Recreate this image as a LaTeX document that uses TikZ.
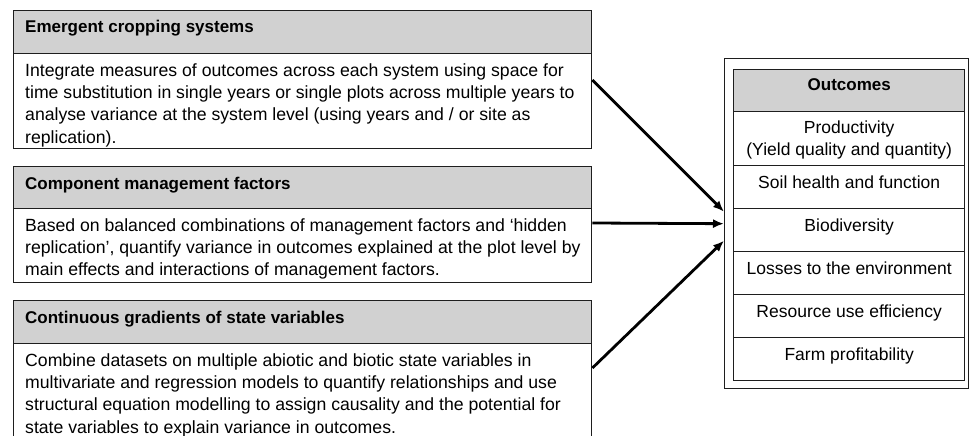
\documentclass[tikz,border=0pt]{standalone}
\usepackage{fontspec}
\setmainfont{Liberation Sans}
\usetikzlibrary{arrows.meta,calc}
\definecolor{hdrgray}{HTML}{D1D1D1}
\definecolor{edgecol}{HTML}{1E1E1E}
\begin{document}
\begin{tikzpicture}[x=1pt,y=-1pt,
 boxline/.style={draw=edgecol,line width=1.4pt},
 hdrbox/.style={boxline,fill=hdrgray,rectangle,anchor=north west,inner sep=0pt,minimum width=578pt},
 bodybox/.style={boxline,fill=white,rectangle,anchor=north west,inner sep=0pt,minimum width=578pt},
 hdrtext/.style={font=\fontsize{17}{21}\selectfont\bfseries,anchor=base west,inner sep=0pt},
 bodytext/.style={font=\fontsize{17.65}{22.3}\selectfont,anchor=north west,inner sep=0pt,align=left},
 rowbox/.style={boxline,rectangle,anchor=north west,inner sep=0pt,minimum width=231pt},
 rowtext/.style={font=\fontsize{17.5}{22}\selectfont,anchor=base,inner sep=0pt,align=center},
 arr/.style={line width=2.8pt,-{Latex[length=11pt,width=9pt]}}
]
\useasboundingbox (0,0) rectangle (970,436);
\clip (0,0) rectangle (970,436);
% left boxes
\node[bodybox,minimum height=95pt] (b1) at (13,53) {};
\node[hdrbox,minimum height=43pt] (h1) at (13,10) {};
\node[bodybox,minimum height=74pt] (b2) at (13,208) {};
\node[hdrbox,minimum height=42pt] (h2) at (13,166) {};
\node[bodybox,minimum height=110pt] (b3) at (13,343) {};
\node[hdrbox,minimum height=43pt] (h3) at (13,300) {};
\node[hdrtext] (t1) at ([xshift=12pt,yshift=-23pt]h1.north west) {Emergent cropping systems};
\node[hdrtext] (t2) at ([xshift=12pt,yshift=-23pt]h2.north west) {Component management factors};
\node[hdrtext] (t3) at ([xshift=12pt,yshift=-23pt]h3.north west) {Continuous gradients of state variables};
\node[bodytext] (d1) at ([xshift=12pt,yshift=-9.5pt]b1.north west) {\rule{0pt}{13.5pt}Integrate measures of outcomes across each system using space for\\time substitution in single years or single plots across multiple years to\\analyse variance at the system level (using years and / or site as\\replication).};
\node[bodytext] (d2) at ([xshift=12pt,yshift=-9.5pt]b2.north west) {\rule{0pt}{13.5pt}Based on balanced combinations of management factors and ‘hidden\\replication’, quantify variance in outcomes explained at the plot level by\\main effects and interactions of management factors.};
\node[bodytext] (d3) at ([xshift=12pt,yshift=-9.5pt]b3.north west) {\rule{0pt}{13.5pt}Combine datasets on multiple abiotic and biotic state variables in\\multivariate and regression models to quantify relationships and use\\structural equation modelling to assign causality and the potential for\\state variables to explain variance in outcomes.};
% outcomes table
\node[boxline,rectangle,anchor=north west,inner sep=0pt,minimum width=244pt,minimum height=330pt] (outer) at (724,58) {};
\node[rowbox,fill=hdrgray,minimum height=42pt] (oh) at (733,69) {};
\node[rowbox,minimum height=54pt] (r1) at (733,111) {};
\node[rowbox,minimum height=43pt] (r2) at (733,165) {};
\node[rowbox,minimum height=43pt] (r3) at (733,208) {};
\node[rowbox,minimum height=43pt] (r4) at (733,251) {};
\node[rowbox,minimum height=43pt] (r5) at (733,294) {};
\node[rowbox,minimum height=43pt] (r6) at (733,337) {};
\node[rowtext,font=\fontsize{17}{21}\selectfont\bfseries] (toh) at ([yshift=-22pt]oh.north) {Outcomes};
\node[rowtext,anchor=north] (tr1) at ([yshift=-9.5pt]r1.north) {\rule{0pt}{13pt}Productivity\\(Yield quality and quantity)};
\node[rowtext] (tr2) at ([yshift=-23pt]r2.north) {Soil health and function};
\node[rowtext] (tr3) at ([yshift=-23pt]r3.north) {Biodiversity};
\node[rowtext] (tr4) at ([yshift=-23pt]r4.north) {Losses to the environment};
\node[rowtext] (tr5) at ([yshift=-23pt]r5.north) {Resource use efficiency};
\node[rowtext] (tr6) at ([yshift=-23pt]r6.north) {Farm profitability};
% arrows
\draw[arr] ([yshift=-27pt]b1.north east) -- ([yshift=12pt]outer.west);
\draw[arr] ([yshift=-15pt]b2.north east) -- (outer.west);
\draw[arr] ([yshift=-25pt]b3.north east) -- ([yshift=-17pt]outer.west);
\end{tikzpicture}
\end{document}
